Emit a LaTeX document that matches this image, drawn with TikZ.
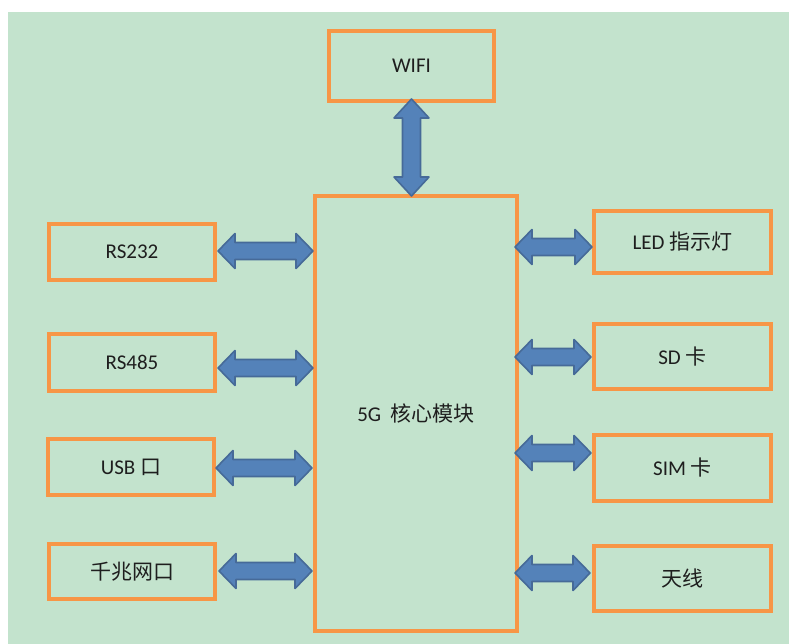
\documentclass[tikz,border=0pt]{standalone}
\usepackage{fontspec}
\setmainfont{Carlito}
\newfontfamily\cjk{Noto Sans CJK SC}
\usetikzlibrary{calc}
\definecolor{bggreen}{RGB}{195,227,205}
\definecolor{boxorange}{RGB}{247,150,70}
\definecolor{arrfill}{RGB}{84,130,185}
\definecolor{arrline}{RGB}{70,106,152}
\definecolor{txt}{RGB}{30,30,30}
\tikzset{
  blockbox/.style={draw=boxorange, line width=4pt, fill=none, inner sep=0pt,
    text=txt, font=\fontsize{21}{25}\selectfont},
  dblarrow/.style={fill=arrfill, draw=arrline, line width=1.6pt, line join=round}
}
\newcommand\harrow[2]{%
  \path[dblarrow] let \p1=(#1), \p2=(#2) in
    (\x1,\y1) -- (\x1+17pt,\y1+17.5pt) -- (\x1+17pt,\y1+8.5pt) --
    (\x2-17pt,\y2+8.5pt) -- (\x2-17pt,\y2+17.5pt) -- (\x2,\y2) --
    (\x2-17pt,\y2-17.5pt) -- (\x2-17pt,\y2-8.5pt) --
    (\x1+17pt,\y1-8.5pt) -- (\x1+17pt,\y1-17.5pt) -- cycle;}
\newcommand\varrow[2]{%
  \path[dblarrow] let \p1=(#1), \p2=(#2) in
    (\x1,\y1) -- (\x1+17.5pt,\y1-19pt) -- (\x1+9pt,\y1-19pt) --
    (\x2+9pt,\y2+19pt) -- (\x2+17.5pt,\y2+19pt) -- (\x2,\y2) --
    (\x2-17.5pt,\y2+19pt) -- (\x2-9pt,\y2+19pt) --
    (\x1-9pt,\y1-19pt) -- (\x1-17.5pt,\y1-19pt) -- cycle;}
\begin{document}
\begin{tikzpicture}[x=1pt,y=-1pt]
\useasboundingbox (0,0) rectangle (789,644);
\fill[white] (0,0) rectangle (789,644);
\fill[bggreen] (8,12) rectangle (789,644);

% boxes
\node[blockbox, minimum width=165pt, minimum height=70pt] (wifi) at (411.5,66) {WIFI};
\node[blockbox, minimum width=202pt, minimum height=435pt] (core) at (416,413.5) {5G\hspace{0.45em}{\cjk 核心模块}};
\node[blockbox, minimum width=166pt, minimum height=56pt] (rs232) at (132,252) {RS232};
\node[blockbox, minimum width=166pt, minimum height=57pt] (rs485) at (132,362.5) {RS485};
\node[blockbox, minimum width=166pt, minimum height=56pt] (usb) at (131,467) {USB {\cjk 口}};
\node[blockbox, minimum width=166pt, minimum height=55pt] (eth) at (132,571.5) {{\cjk 千兆网口}};
\node[blockbox, minimum width=177pt, minimum height=62pt] (led) at (682.5,242) {LED {\cjk 指示灯}};
\node[blockbox, minimum width=177pt, minimum height=65pt] (sd) at (682.5,356.5) {SD {\cjk 卡}};
\node[blockbox, minimum width=177pt, minimum height=66pt] (sim) at (682.5,468) {SIM {\cjk 卡}};
\node[blockbox, minimum width=177pt, minimum height=65pt] (ant) at (682.5,578.5) {{\cjk 天线}};

% arrow end points
\coordinate (w1) at (wifi.south |- 0,99);
\coordinate (w2) at (wifi.south |- 0,196);
\coordinate (a1s) at (218,251); \coordinate (a1e) at (core.west |- 0,251);
\coordinate (a2s) at (218,368); \coordinate (a2e) at (core.west |- 0,368);
\coordinate (a3s) at (216,468); \coordinate (a3e) at (312,468);
\coordinate (a4s) at (219,571); \coordinate (a4e) at (312,571);
\coordinate (b1s) at (515,247); \coordinate (b1e) at (592,247);
\coordinate (b2s) at (515,357); \coordinate (b2e) at (591,357);
\coordinate (b3s) at (515,453); \coordinate (b3e) at (591,453);
\coordinate (b4s) at (515,573); \coordinate (b4e) at (590,573);

\varrow{w1}{w2}
\harrow{a1s}{a1e}
\harrow{a2s}{a2e}
\harrow{a3s}{a3e}
\harrow{a4s}{a4e}
\harrow{b1s}{b1e}
\harrow{b2s}{b2e}
\harrow{b3s}{b3e}
\harrow{b4s}{b4e}
\end{tikzpicture}
\end{document}
